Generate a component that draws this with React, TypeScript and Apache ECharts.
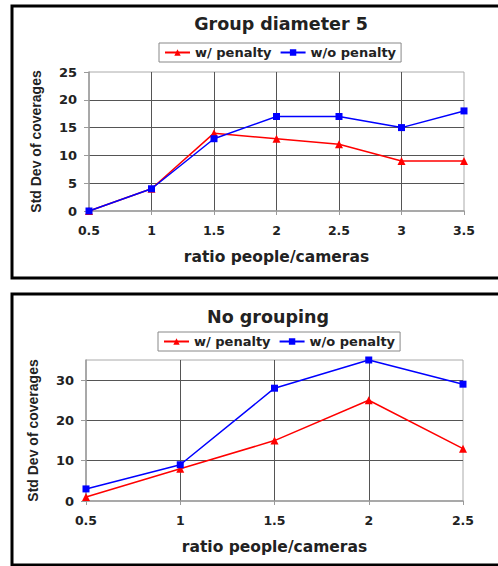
import React, { useEffect, useRef } from "react";
import * as echarts from "echarts";

const xTop = ["0.5", "1", "1.5", "2", "2.5", "3", "3.5"];
const withPenaltyTop = [0, 4, 14, 13, 12, 9, 9];
const withoutPenaltyTop = [0, 4, 13, 17, 17, 15, 18];

const xBottom = ["0.5", "1", "1.5", "2", "2.5"];
const withPenaltyBottom = [1, 8, 15, 25, 13];
const withoutPenaltyBottom = [3, 9, 28, 35, 29];

const seriesNames = ["w/ penalty", "w/o penalty"];
const titles = ["Group diameter 5", "No grouping"];
const xName = "ratio people/cameras";
const yName = "Std Dev of coverages";

const FONT = "DejaVu Sans";
const RED = "#ff0000";
const BLUE = "#0000ff";

export default function App() {
  const ref = useRef<HTMLDivElement>(null);
  useEffect(() => {
    if (!ref.current) return;
    const chart = echarts.init(ref.current, null, { renderer: "svg" });

    const mkX = (gridIndex: number, data: string[]) => ({
      type: "category",
      gridIndex,
      data,
      boundaryGap: false,
      name: xName,
      nameLocation: "middle",
      nameGap: 38,
      nameTextStyle: { fontFamily: FONT, fontWeight: "bold", fontSize: 15.5, color: "#222" },
      axisLine: { show: true, lineStyle: { color: "#9a9a9a", width: 1.5 } },
      axisTick: { show: true, alignWithLabel: true, length: 4, lineStyle: { color: "#9a9a9a" } },
      axisLabel: { margin: 13, fontFamily: FONT, fontWeight: "bold", fontSize: 12.5, color: "#222" },
      splitLine: { show: true, showMinLine: false, showMaxLine: false, lineStyle: { color: "#555", width: 1 } },
    });
    const mkY = (gridIndex: number, max: number, interval: number) => ({
      type: "value",
      gridIndex,
      min: 0,
      max,
      interval,
      name: yName,
      nameLocation: "middle",
      nameRotate: 90,
      nameGap: 46,
      nameTextStyle: { fontFamily: "Liberation Sans", fontWeight: "bold", fontSize: 14, color: "#222" },
      axisLine: { show: true, lineStyle: { color: "#9a9a9a", width: 1.5 } },
      axisTick: { show: true, length: 5, lineStyle: { color: "#9a9a9a" } },
      axisLabel: { margin: 12, showMaxLabel: max % interval === 0, fontFamily: FONT, fontWeight: "bold", fontSize: 13, color: "#222" },
      splitLine: { show: true, showMinLine: false, showMaxLine: false, lineStyle: { color: "#555", width: 1 } },
    });
    const mkLegend = (left: number, top: number) => ({
      left,
      top,
      data: seriesNames,
      orient: "horizontal",
      itemWidth: 25,
      itemHeight: 8,
      itemGap: 8,
      padding: [3, 5],
      borderColor: "#888",
      borderWidth: 1,
      backgroundColor: "#fff",
      selectedMode: false,
      textStyle: { fontFamily: FONT, fontWeight: "bold", fontSize: 13, color: "#222" },
    });
    const redStyle = (xi: number, data: number[]) => ({
      name: seriesNames[0],
      type: "line",
      xAxisIndex: xi,
      yAxisIndex: xi,
      data,
      symbol: "triangle",
      symbolSize: 8,
      lineStyle: { color: RED, width: 1.5 },
      itemStyle: { color: RED },
      z: 3,
    });
    const blueStyle = (xi: number, data: number[]) => ({
      name: seriesNames[1],
      type: "line",
      xAxisIndex: xi,
      yAxisIndex: xi,
      data,
      symbol: "rect",
      symbolSize: 7,
      lineStyle: { color: BLUE, width: 1.5 },
      itemStyle: { color: BLUE },
      z: 4,
    });

    chart.setOption({
      animation: false,
      backgroundColor: "#fff",
      graphic: [
        { type: "rect", shape: { x: 12, y: 6, width: 500, height: 272 }, style: { fill: "none", stroke: "#000", lineWidth: 3 } },
        { type: "rect", shape: { x: 12, y: 294, width: 500, height: 271 }, style: { fill: "none", stroke: "#000", lineWidth: 3 } },
        { type: "text", x: 281, y: 24, style: { text: titles[0], font: `bold 17.5px "${FONT}"`, fill: "#222", textAlign: "center", textVerticalAlign: "middle" } },
        { type: "text", x: 268, y: 317, style: { text: titles[1], font: `bold 17.5px "${FONT}"`, fill: "#222", textAlign: "center", textVerticalAlign: "middle" } },
      ],
      legend: [mkLegend(159, 43), mkLegend(158, 332)],
      grid: [
        { left: 89, right: 34, top: 72, height: 139, show: true, borderColor: "#aaa", borderWidth: 1, backgroundColor: "transparent" },
        { left: 86, right: 35, top: 360, height: 141, show: true, borderColor: "#aaa", borderWidth: 1, backgroundColor: "transparent" },
      ],
      xAxis: [mkX(0, xTop), mkX(1, xBottom)],
      yAxis: [mkY(0, 25, 5), mkY(1, 35, 10)],
      series: [
        redStyle(0, withPenaltyTop),
        blueStyle(0, withoutPenaltyTop),
        redStyle(1, withPenaltyBottom),
        blueStyle(1, withoutPenaltyBottom),
      ],
    });
    return () => chart.dispose();
  }, []);
  return (
    <div
      ref={ref}
      style={{ position: "fixed", left: 0, top: 0, width: 498, height: 566, background: "#fff" }}
    />
  );
}
